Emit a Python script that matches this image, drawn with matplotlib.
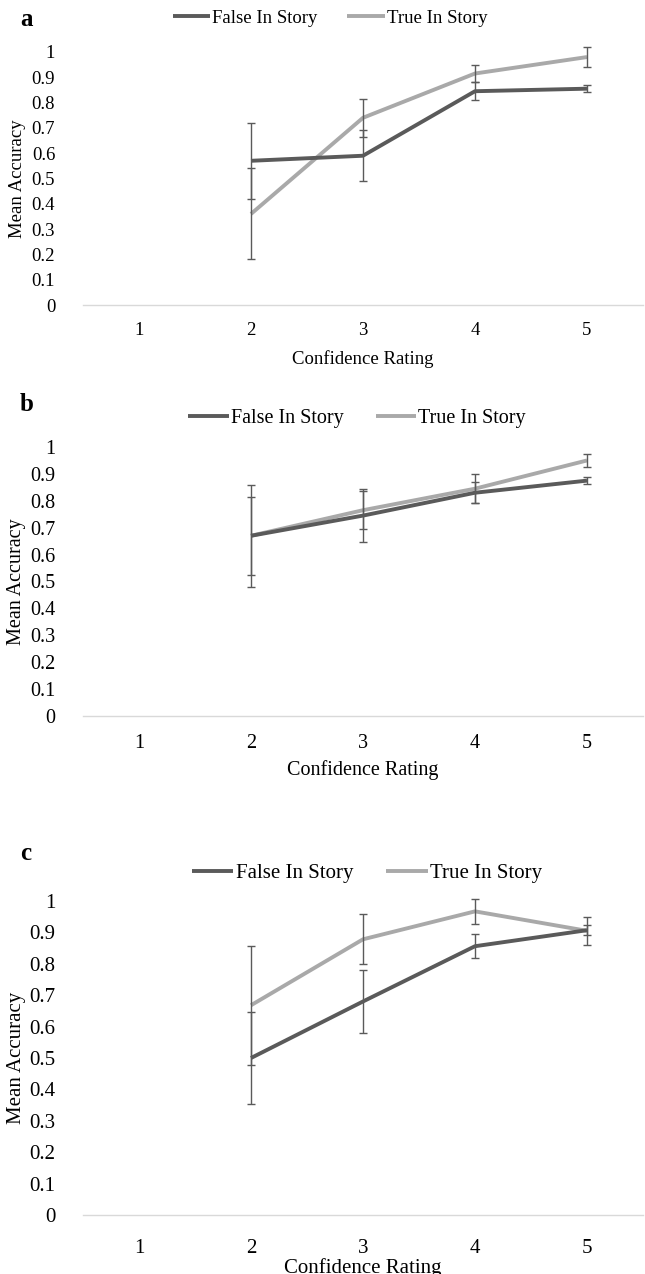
import matplotlib.pyplot as plt

# data
ratings = [1, 2, 3, 4, 5]
tick_labels = ['1', '2', '3', '4', '5']
y_ticks = [0, 0.1, 0.2, 0.3, 0.4, 0.5, 0.6, 0.7, 0.8, 0.9, 1]
y_tick_labels = ['0', '0.1', '0.2', '0.3', '0.4', '0.5', '0.6', '0.7', '0.8', '0.9', '1']

x_pts = [2, 3, 4, 5]

a_false = [0.57, 0.59, 0.845, 0.855]
a_false_err = [0.15, 0.10, 0.035, 0.015]
a_true = [0.36, 0.74, 0.915, 0.98]
a_true_err = [0.18, 0.075, 0.035, 0.04]

b_false = [0.67, 0.745, 0.83, 0.875]
b_false_err = [0.145, 0.10, 0.04, 0.012]
b_true = [0.67, 0.765, 0.845, 0.95]
b_true_err = [0.19, 0.07, 0.055, 0.025]

c_false = [0.50, 0.68, 0.856, 0.907]
c_false_err = [0.145, 0.10, 0.038, 0.016]
c_true = [0.668, 0.878, 0.967, 0.905]
c_true_err = [0.19, 0.08, 0.04, 0.045]

dark = '#5a5a5a'
light = '#a9a9a9'

plt.rcParams['font.family'] = ['Liberation Serif', 'DejaVu Serif']

W, H = 645, 1274
fig = plt.figure(figsize=(W / 100, H / 100), dpi=100)

# letter, y of 0 (px), y of 1 (px), legend y, legend x, letter y, data, font size, x pad, xlabel pad
panels = [
    ('a', 305, 52, 18, 330, 20, a_false, a_false_err, a_true, a_true_err, 13.5, 12, 8),
    ('b', 716, 447, 418, 357, 405, b_false, b_false_err, b_true, b_true_err, 14.5, 13, 5),
    ('c', 1215, 901, 873, 367, 853, c_false, c_false_err, c_true, c_true_err, 15, 17, 0),
]

for (letter, y0, y1, ly, lx, lety, f_val, f_err, t_val, t_err, fs, xpad, lpad) in panels:
    ax = fig.add_axes([83 / W, (H - y0) / H, 560 / W, (y0 - y1) / H])
    l1, = ax.plot(x_pts, f_val, color=dark, lw=2.8, solid_capstyle='butt', zorder=3)
    l2, = ax.plot(x_pts, t_val, color=light, lw=2.8, solid_capstyle='butt', zorder=2)
    ax.errorbar(x_pts, f_val, yerr=f_err, fmt='none', ecolor=dark, elinewidth=1.0,
                capsize=3, capthick=1.0, zorder=4, clip_on=False)
    ax.errorbar(x_pts, t_val, yerr=t_err, fmt='none', ecolor=dark, elinewidth=1.0,
                capsize=3, capthick=1.0, zorder=4, clip_on=False)
    ax.set_xlim(0.5, 5.5)
    ax.set_ylim(0, 1)
    ax.set_xticks(ratings)
    ax.set_xticklabels(tick_labels, fontsize=fs)
    ax.set_yticks(y_ticks)
    ax.set_yticklabels(y_tick_labels, fontsize=fs)
    ax.tick_params(axis='y', length=0, pad=20)
    ax.tick_params(axis='x', length=0, pad=xpad)
    for s in ['top', 'right', 'left']:
        ax.spines[s].set_visible(False)
    ax.spines['bottom'].set_color('#d9d9d9')
    ax.spines['bottom'].set_linewidth(1.0)
    ax.set_xlabel('Confidence Rating', fontsize=fs, labelpad=lpad)
    ax.set_ylabel('Mean Accuracy', fontsize=fs)
    ax.yaxis.set_label_coords(-57 / 560, 0.5)
    fig.legend([l1, l2], ['False In Story', 'True In Story'], loc='center',
               bbox_to_anchor=(lx / W, 1 - ly / H), ncol=2, frameon=False,
               fontsize=fs, handlelength=2.0, handletextpad=0.1, columnspacing=1.6)
    fig.text(20 / W, 1 - lety / H, letter, fontsize=18, fontweight='bold',
             va='center', ha='left')

fig.savefig('out.png', dpi=100)
